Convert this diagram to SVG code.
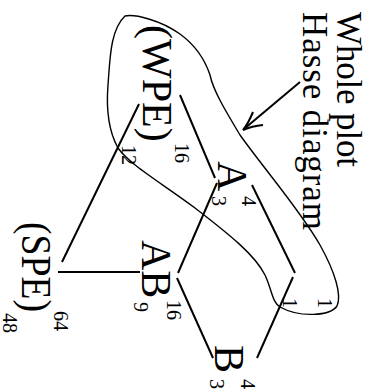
<svg xmlns="http://www.w3.org/2000/svg" width="369" height="391" viewBox="0 0 369 391">
<style>
text{font-family:"Liberation Serif","Times New Roman",serif;fill:#000}
.big{font-size:42px}
.sm{font-size:20px}
.note{font-size:35px}
.edge{stroke:#000;stroke-width:2;fill:none;stroke-linecap:butt}
.loop{stroke:#000;stroke-width:1.4;fill:none}
</style>
<rect width="369" height="391" fill="#fff"/>
<g id="connectors">
<line class="edge" x1="180" y1="95" x2="215" y2="178"/>
<line class="edge" x1="139" y1="104" x2="62" y2="262"/>
<line class="edge" x1="58" y1="272" x2="140" y2="272"/>
<line class="edge" x1="217" y1="183" x2="178" y2="273"/>
<line class="edge" x1="252" y1="185" x2="295" y2="273"/>
<line class="edge" x1="293" y1="277" x2="257" y2="358"/>
<line class="edge" x1="177" y1="278" x2="213" y2="358"/>
</g>
<g id="whole-plot-loop">
<path class="loop" d="M125,16 C135,14 160,20 180,34 C195,45 205,60 210,75 C213,90 225,110 240,135 C265,170 300,210 320,245 C335,272 342,295 337,306 C330,316 300,318 280,307 C272,302 272,290 265,275 C255,255 230,235 195,208 C160,182 130,165 118,148 C108,130 106,110 108,85 C110,60 110,30 125,16 Z"/>
</g>
<g id="annotation">
<text class="note" transform="translate(337,12) rotate(90)" textLength="155" lengthAdjust="spacing">Whole plot</text>
<text class="note" transform="translate(303,12) rotate(90)" textLength="218" lengthAdjust="spacing">Hasse diagram</text>
<line class="edge" x1="300" y1="82" x2="244" y2="129"/>
<path class="edge" d="M253,112 Q248,124 243,130 Q252,126 263,125"/>
</g>
<g id="node-WPE">
<text class="big" transform="translate(143,25) rotate(90)">(WPE)</text>
<text class="sm" transform="translate(175,143) rotate(90)">16</text>
<text class="sm" transform="translate(122,145) rotate(90)">12</text>
</g>
<g id="node-A">
<text class="big" transform="translate(218,161) rotate(90)">A</text>
<text class="sm" transform="translate(242,196) rotate(90)">4</text>
<text class="sm" transform="translate(212,196) rotate(90)">3</text>
</g>
<g id="node-AB">
<text class="big" transform="translate(142,240) rotate(90)">AB</text>
<text class="sm" transform="translate(167,300) rotate(90)">16</text>
<text class="sm" transform="translate(134,302) rotate(90)">9</text>
</g>
<g id="node-B">
<text class="big" transform="translate(215,345) rotate(90)">B</text>
<text class="sm" transform="translate(241,379) rotate(90)">4</text>
<text class="sm" transform="translate(210,379) rotate(90)">3</text>
</g>
<g id="node-SPE">
<text class="big" transform="translate(22,222) rotate(90)" textLength="90" lengthAdjust="spacingAndGlyphs">(SPE)</text>
<text class="sm" transform="translate(54,311) rotate(90)">64</text>
<text class="sm" transform="translate(3,313) rotate(90)">48</text>
</g>
<g id="node-1">
<text class="sm" transform="translate(318,298) rotate(90)">1</text>
<text class="sm" transform="translate(283,298) rotate(90)">1</text>
</g>
</svg>
